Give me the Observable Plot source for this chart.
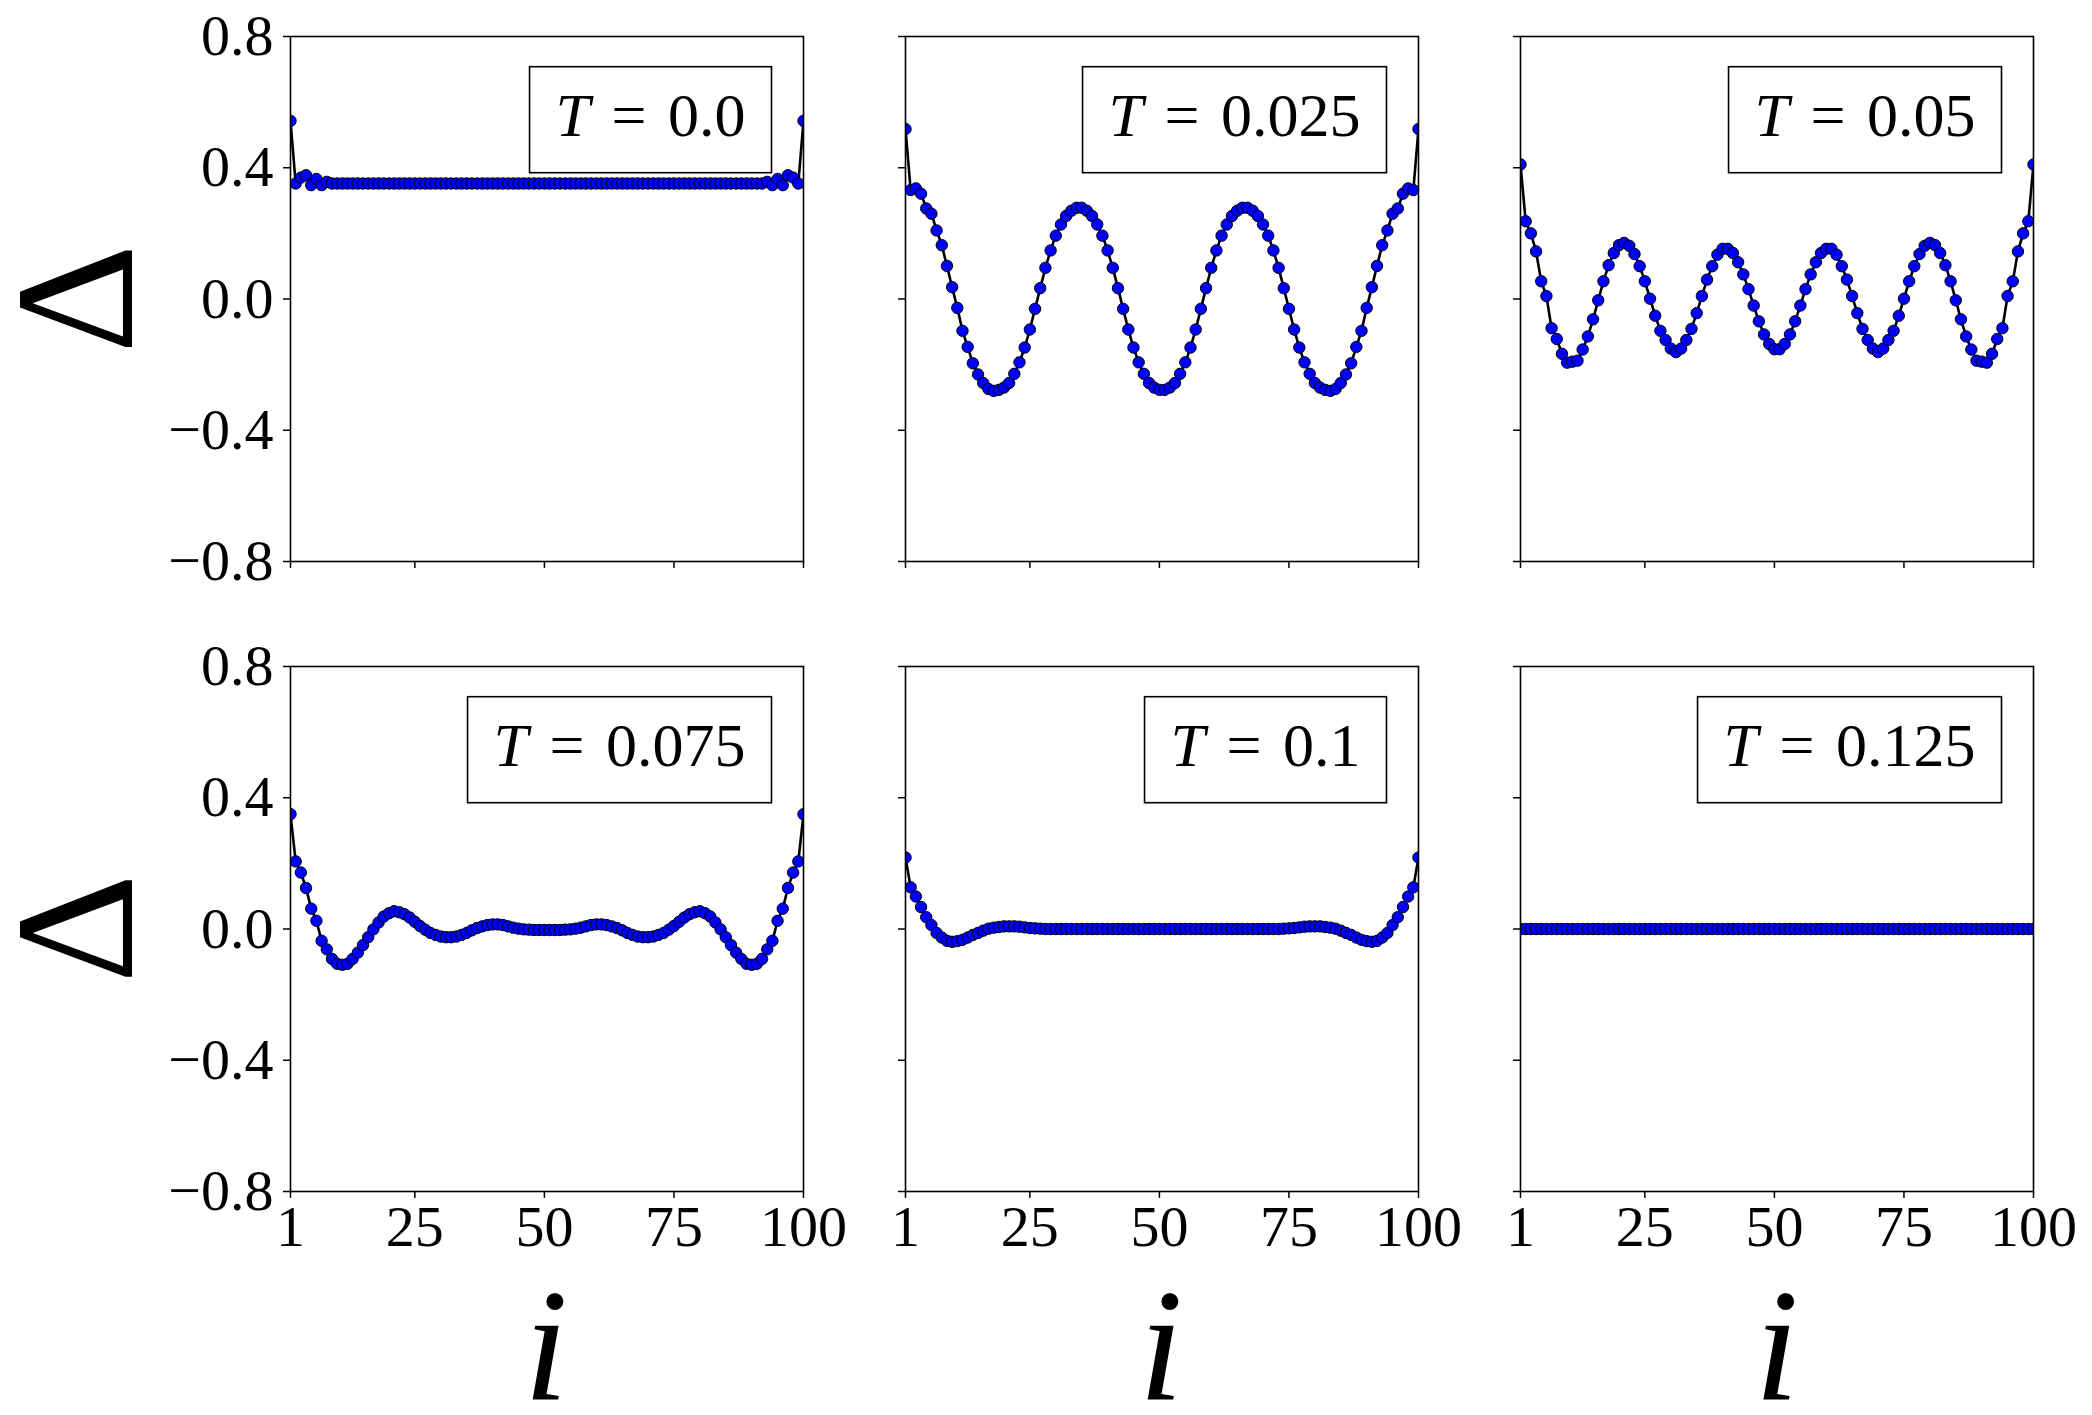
<!DOCTYPE html>
<html>
<head>
<meta charset="utf-8">
<script src="https://cdn.jsdelivr.net/npm/d3@7"></script>
<script src="https://cdn.jsdelivr.net/npm/@observablehq/plot@0.6"></script>
<style>
html, body { margin: 0; padding: 0; background: #fff; }
#root { position: relative; width: 2092px; height: 1415px; overflow: hidden; background: #fff; }
#root svg { position: absolute; }
</style>
</head>
<body>
<div id="root"></div>
<script>
// ---------- data ----------
const temperatures = ["0.0", "0.025", "0.05", "0.075", "0.1", "0.125"];
const siteIndex = d3.range(1, 101);
const xTicks = [1, 25, 50, 75, 100];
const yTicks = [-0.8, -0.4, 0.0, 0.4, 0.8];

const delta_T0000 = [
  0.543, 0.352, 0.370, 0.377, 0.347, 0.366, 0.347, 0.357, 0.352, 0.352,
  0.352, 0.352, 0.352, 0.352, 0.352, 0.352, 0.352, 0.352, 0.352, 0.352,
  0.352, 0.352, 0.352, 0.352, 0.352, 0.352, 0.352, 0.352, 0.352, 0.352,
  0.352, 0.352, 0.352, 0.352, 0.352, 0.352, 0.352, 0.352, 0.352, 0.352,
  0.352, 0.352, 0.352, 0.352, 0.352, 0.352, 0.352, 0.352, 0.352, 0.352,
  0.352, 0.352, 0.352, 0.352, 0.352, 0.352, 0.352, 0.352, 0.352, 0.352,
  0.352, 0.352, 0.352, 0.352, 0.352, 0.352, 0.352, 0.352, 0.352, 0.352,
  0.352, 0.352, 0.352, 0.352, 0.352, 0.352, 0.352, 0.352, 0.352, 0.352,
  0.352, 0.352, 0.352, 0.352, 0.352, 0.352, 0.352, 0.352, 0.352, 0.352,
  0.352, 0.352, 0.357, 0.347, 0.366, 0.347, 0.377, 0.370, 0.352, 0.543
];
const delta_T0025 = [
  0.518, 0.332, 0.337, 0.321, 0.276, 0.260, 0.209, 0.164, 0.101, 0.036,
  -0.027, -0.097, -0.146, -0.196, -0.230, -0.256, -0.274, -0.280, -0.277, -0.270,
  -0.256, -0.228, -0.193, -0.148, -0.093, -0.030, 0.033, 0.095, 0.148, 0.193,
  0.227, 0.253, 0.269, 0.278, 0.278, 0.269, 0.253, 0.227, 0.193, 0.148,
  0.095, 0.033, -0.030, -0.093, -0.148, -0.193, -0.228, -0.256, -0.270, -0.277,
  -0.277, -0.270, -0.256, -0.228, -0.193, -0.148, -0.093, -0.030, 0.033, 0.095,
  0.148, 0.193, 0.227, 0.253, 0.269, 0.278, 0.278, 0.269, 0.253, 0.227,
  0.193, 0.148, 0.095, 0.033, -0.030, -0.093, -0.148, -0.193, -0.228, -0.256,
  -0.270, -0.277, -0.280, -0.274, -0.256, -0.230, -0.196, -0.146, -0.097, -0.027,
  0.036, 0.101, 0.164, 0.209, 0.260, 0.276, 0.321, 0.337, 0.332, 0.518
];
const delta_T0050 = [
  0.410, 0.237, 0.200, 0.145, 0.054, 0.009, -0.089, -0.122, -0.167, -0.194,
  -0.191, -0.188, -0.154, -0.114, -0.062, -0.004, 0.054, 0.103, 0.140, 0.164,
  0.171, 0.162, 0.137, 0.100, 0.054, 0.001, -0.051, -0.097, -0.125, -0.151,
  -0.162, -0.151, -0.125, -0.091, -0.043, 0.009, 0.059, 0.100, 0.135, 0.153,
  0.153, 0.140, 0.112, 0.075, 0.030, -0.020, -0.068, -0.108, -0.137, -0.153,
  -0.153, -0.137, -0.108, -0.068, -0.020, 0.030, 0.075, 0.112, 0.140, 0.153,
  0.153, 0.135, 0.100, 0.059, 0.009, -0.043, -0.091, -0.125, -0.151, -0.162,
  -0.151, -0.125, -0.097, -0.051, 0.001, 0.054, 0.100, 0.137, 0.162, 0.171,
  0.164, 0.140, 0.103, 0.054, -0.004, -0.062, -0.114, -0.154, -0.188, -0.191,
  -0.194, -0.167, -0.122, -0.089, 0.009, 0.054, 0.145, 0.200, 0.237, 0.410
];
const delta_T0075 = [
  0.350, 0.206, 0.172, 0.125, 0.062, 0.025, -0.036, -0.062, -0.091, -0.106,
  -0.109, -0.106, -0.091, -0.072, -0.049, -0.025, -0.001, 0.020, 0.038, 0.048,
  0.054, 0.051, 0.045, 0.035, 0.022, 0.009, -0.002, -0.012, -0.018, -0.023,
  -0.025, -0.025, -0.023, -0.018, -0.012, -0.004, 0.003, 0.008, 0.012, 0.014,
  0.014, 0.012, 0.008, 0.004, 0.001, -0.001, -0.002, -0.003, -0.003, -0.003,
  -0.003, -0.003, -0.003, -0.002, -0.001, 0.001, 0.004, 0.008, 0.012, 0.014,
  0.014, 0.012, 0.008, 0.003, -0.004, -0.012, -0.018, -0.023, -0.025, -0.025,
  -0.023, -0.018, -0.012, -0.002, 0.009, 0.022, 0.035, 0.045, 0.051, 0.054,
  0.048, 0.038, 0.020, -0.001, -0.025, -0.049, -0.072, -0.091, -0.106, -0.109,
  -0.106, -0.091, -0.062, -0.036, 0.025, 0.062, 0.125, 0.172, 0.206, 0.350
];
const delta_T0100 = [
  0.218, 0.127, 0.099, 0.067, 0.036, 0.012, -0.012, -0.026, -0.036, -0.039,
  -0.037, -0.033, -0.026, -0.018, -0.012, -0.005, 0.001, 0.004, 0.006, 0.008,
  0.008, 0.008, 0.007, 0.005, 0.003, 0.002, 0.001, 0.000, 0.000, 0.000,
  0.000, 0.000, 0.000, 0.000, 0.000, 0.000, 0.000, 0.000, 0.000, 0.000,
  0.000, 0.000, 0.000, 0.000, 0.000, 0.000, 0.000, 0.000, 0.000, 0.000,
  0.000, 0.000, 0.000, 0.000, 0.000, 0.000, 0.000, 0.000, 0.000, 0.000,
  0.000, 0.000, 0.000, 0.000, 0.000, 0.000, 0.000, 0.000, 0.000, 0.000,
  0.000, 0.000, 0.000, 0.001, 0.002, 0.003, 0.005, 0.007, 0.008, 0.008,
  0.008, 0.006, 0.004, 0.001, -0.005, -0.012, -0.018, -0.026, -0.033, -0.037,
  -0.039, -0.036, -0.026, -0.012, 0.012, 0.036, 0.067, 0.099, 0.127, 0.218
];
const delta_T0125 = [
  0.000, 0.000, 0.000, 0.000, 0.000, 0.000, 0.000, 0.000, 0.000, 0.000,
  0.000, 0.000, 0.000, 0.000, 0.000, 0.000, 0.000, 0.000, 0.000, 0.000,
  0.000, 0.000, 0.000, 0.000, 0.000, 0.000, 0.000, 0.000, 0.000, 0.000,
  0.000, 0.000, 0.000, 0.000, 0.000, 0.000, 0.000, 0.000, 0.000, 0.000,
  0.000, 0.000, 0.000, 0.000, 0.000, 0.000, 0.000, 0.000, 0.000, 0.000,
  0.000, 0.000, 0.000, 0.000, 0.000, 0.000, 0.000, 0.000, 0.000, 0.000,
  0.000, 0.000, 0.000, 0.000, 0.000, 0.000, 0.000, 0.000, 0.000, 0.000,
  0.000, 0.000, 0.000, 0.000, 0.000, 0.000, 0.000, 0.000, 0.000, 0.000,
  0.000, 0.000, 0.000, 0.000, 0.000, 0.000, 0.000, 0.000, 0.000, 0.000,
  0.000, 0.000, 0.000, 0.000, 0.000, 0.000, 0.000, 0.000, 0.000, 0.000
];

const series = [delta_T0000, delta_T0025, delta_T0050, delta_T0075, delta_T0100, delta_T0125];

// ---------- layout ----------
const FW = 513, FH = 525;
const colLeft = [289.6, 904.6, 1520.3];
const rowTop = [36.3, 666.2];
const ML = 130, MR = 40, MT = 20, MB = 90;
const FONT = "'Liberation Serif', 'DejaVu Serif', serif";
const root = document.getElementById("root");
const ns = "http://www.w3.org/2000/svg";

series.forEach((vals, k) => {
  const row = Math.floor(k / 3), col = k % 3;
  const data = siteIndex.map((i, j) => ({i, delta: vals[j]}));
  const chart = Plot.plot({
    width: ML + FW + MR,
    height: MT + FH + MB,
    marginLeft: ML, marginRight: MR, marginTop: MT, marginBottom: MB,
    style: {background: "transparent", fontFamily: FONT, fontSize: "58px", overflow: "visible"},
    x: {domain: [1, 100], label: null},
    y: {domain: [-0.8, 0.8], label: null},
    marks: [
      Plot.axisX({ticks: xTicks, tickSize: 7, tickPadding: 6, strokeWidth: 1.5, fontSize: 58, label: null,
        tickFormat: row === 1 ? (d => String(d)) : (() => "")}),
      Plot.axisY({ticks: yTicks, tickSize: 7, tickPadding: 10, strokeWidth: 1.5, fontSize: 58, label: null,
        tickFormat: col === 0 ? d3.format(".1f") : (() => "")}),
      Plot.line(data, {x: "i", y: "delta", stroke: "black", strokeWidth: 2.6, clip: true}),
      Plot.dot(data, {x: "i", y: "delta", r: 5.7, fill: "#0000ff", stroke: "black", strokeWidth: 1, clip: true}),
      Plot.frame({stroke: "black", strokeWidth: 1.6}),
      Plot.text([`T = ${temperatures[k]}`], {frameAnchor: "top-right", lineAnchor: "middle", dx: -58, dy: 80, textAnchor: "end", fontSize: 62})
    ]
  });
  chart.style.left = (colLeft[col] - ML) + "px";
  chart.style.top = (rowTop[row] - MT) + "px";
  root.appendChild(chart);

  // legend box around the T label
  const groups = chart.querySelectorAll('g[aria-label="text"]');
  const g = groups[groups.length - 1];
  const t = g.querySelector("text");
  t.textContent = "";
  const ts1 = document.createElementNS(ns, "tspan");
  ts1.setAttribute("font-style", "italic");
  ts1.textContent = "T";
  const ts2 = document.createElementNS(ns, "tspan");
  ts2.setAttribute("word-spacing", "6");
  ts2.textContent = " = " + temperatures[k];
  t.appendChild(ts1); t.appendChild(ts2);
  const sr = chart.getBoundingClientRect();
  const tr = t.getBoundingClientRect();
  const pad = 26;
  const rect = document.createElementNS(ns, "rect");
  rect.setAttribute("x", tr.left - sr.left - pad);
  rect.setAttribute("width", tr.width + 2 * pad);
  rect.setAttribute("y", MT + 30.7);
  rect.setAttribute("height", 106);
  rect.setAttribute("fill", "white");
  rect.setAttribute("stroke", "black");
  rect.setAttribute("stroke-width", 1.6);
  g.parentNode.insertBefore(rect, g);
});

// ---------- axis titles ----------
const overlay = d3.create("svg")
  .attr("width", 2092).attr("height", 1415)
  .style("left", "0px").style("top", "0px").style("pointer-events", "none");
rowTop.forEach(top => {
  overlay.append("text")
    .attr("transform", `translate(132,${top + FH / 2}) rotate(-90)`)
    .attr("text-anchor", "middle")
    .attr("font-family", FONT)
    .attr("font-size", 170)
    .text("Δ");
});
colLeft.forEach(left => {
  overlay.append("text")
    .attr("x", left + FW / 2).attr("y", 1400)
    .attr("text-anchor", "middle")
    .attr("font-family", FONT)
    .attr("font-style", "italic")
    .attr("font-size", 160)
    .text("i");
});
root.appendChild(overlay.node());
</script>
</body>
</html>
